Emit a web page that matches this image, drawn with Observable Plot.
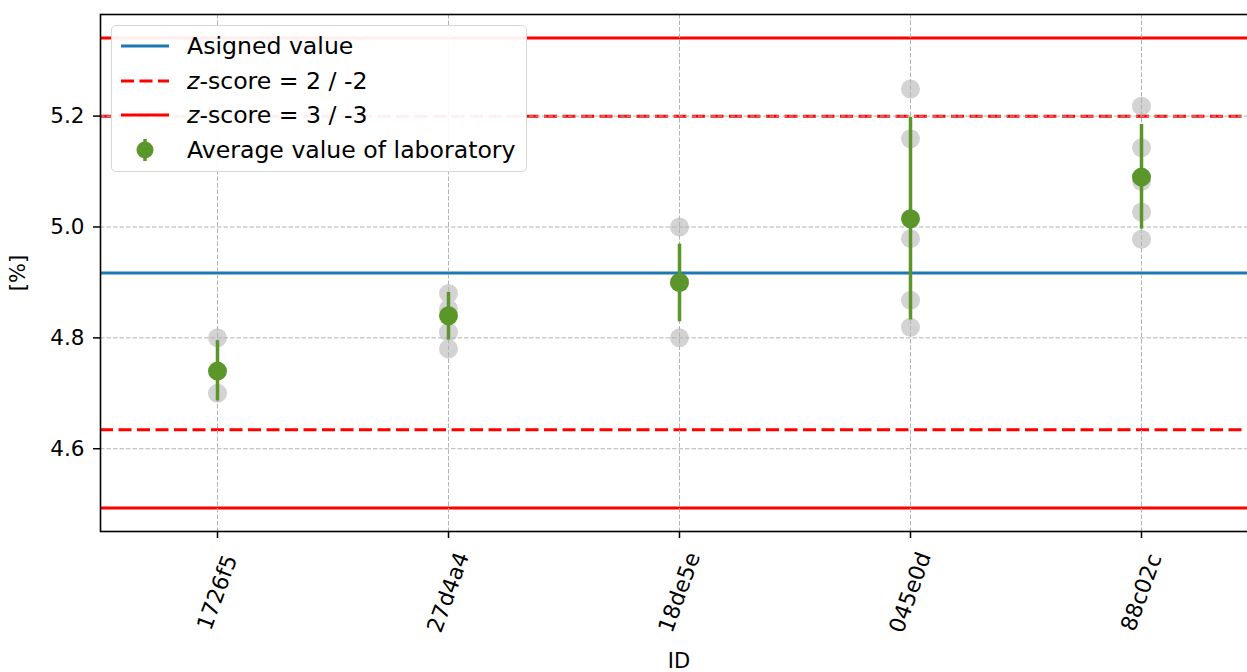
<!DOCTYPE html>
<html>
<head>
<meta charset="utf-8">
<script src="https://cdn.jsdelivr.net/npm/d3@7"></script>
<script src="https://cdn.jsdelivr.net/npm/@observablehq/plot@0.6"></script>
<style>
  html, body { margin: 0; padding: 0; background: white; overflow: hidden; }
  #wrap { position: relative; width: 1247px; height: 672px; font-family: "DejaVu Sans", sans-serif; }
  #legend { position: absolute; left: 111px; top: 25px; width: 416px; height: 147px; box-sizing: border-box;
            border: 1.5px solid #d6d6d6; border-radius: 5px; background: rgba(255,255,255,0.93); }
  #legend svg { display: block; }
</style>
</head>
<body>
<div id="wrap"></div>
<script>
// ---- data ----
const ids = ["1726f5", "27d4a4", "18de5e", "045e0d", "88c02c"];
const labMeans   = [4.740, 4.840, 4.900, 5.015, 5.090];
const labErrLow  = [4.686, 4.796, 4.829, 4.832, 4.996];
const labErrHigh = [4.795, 4.882, 4.969, 5.198, 5.185];

const replicateIds = [
  "1726f5", "1726f5",
  "27d4a4", "27d4a4", "27d4a4", "27d4a4",
  "18de5e", "18de5e", "18de5e",
  "045e0d", "045e0d", "045e0d", "045e0d", "045e0d",
  "88c02c", "88c02c", "88c02c", "88c02c", "88c02c"
];
const replicateValues = [
  4.800, 4.700,
  4.880, 4.852, 4.810, 4.780,
  5.000, 4.900, 4.800,
  5.249, 5.159, 4.979, 4.868, 4.819,
  5.218, 5.143, 5.082, 5.027, 4.978
];

const assignedValue = 4.917;
const sigmaPT = 0.1413;
const zLimits2 = [2, -2];
const zLimits3 = [3, -3];
const yTicks = [4.6, 4.8, 5.0, 5.2];

// ---- derived tables ----
const labs = ids.map((id, i) => ({id, mean: labMeans[i], lo: labErrLow[i], hi: labErrHigh[i]}));
const reps = replicateIds.map((id, i) => ({id, v: replicateValues[i]}));
const z2 = zLimits2.map(z => assignedValue + z * sigmaPT);
const z3 = zLimits3.map(z => assignedValue + z * sigmaPT);

const allY = [...z3, ...replicateValues, ...labErrLow, ...labErrHigh];
const yMin = d3.min(allY), yMax = d3.max(allY), pad = (yMax - yMin) * 0.05;

const GREEN = "#5b962a";
const GRAY = "#d3d3d3";
const GRID = "#b3b3b3";

const plot = Plot.plot({
  width: 1247,
  height: 672,
  marginTop: 14,
  marginBottom: 141,
  marginLeft: 100,
  marginRight: -10,
  style: {fontFamily: "DejaVu Sans, sans-serif", fontSize: "21px", color: "black", background: "white"},
  x: {type: "point", domain: ids, padding: 0.5},
  y: {domain: [yMin - pad, yMax + pad]},
  marks: [
    Plot.dot(reps, {x: "id", y: "v", r: 9.5, fill: GRAY, stroke: "none"}),
    Plot.ruleY([assignedValue], {stroke: "#1f77b4", strokeWidth: 3}),
    Plot.ruleY(z2, {stroke: "#ff0000", strokeWidth: 3, strokeDasharray: "13,5.5"}),
    Plot.ruleY(z3, {stroke: "#ff0000", strokeWidth: 3}),
    Plot.gridY(yTicks, {stroke: GRID, strokeOpacity: 1, strokeWidth: 1, strokeDasharray: "4.5,2"}),
    Plot.gridX(ids, {stroke: GRID, strokeOpacity: 1, strokeWidth: 1, strokeDasharray: "4.5,2"}),
    Plot.ruleX(labs, {x: "id", y1: "lo", y2: "hi", stroke: GREEN, strokeWidth: 3.5}),
    Plot.dot(labs, {x: "id", y: "mean", r: 9.5, fill: GREEN, stroke: "none"}),
    Plot.axisY(yTicks, {tickFormat: d3.format(".1f"), tickSize: 7, tickPadding: 9, strokeWidth: 1.5, label: null, fontSize: 21.5}),
    Plot.axisX(ids, {tickSize: 7, strokeWidth: 1.5, tickFormat: () => "", label: null}),
    Plot.text(ids, {x: d => d, frameAnchor: "bottom", dy: 61, rotate: -70, textAnchor: "middle", lineAnchor: "middle", fontSize: 22, fill: "black"}),
    Plot.text(["[%]"], {frameAnchor: "left", dx: -82, rotate: -90, textAnchor: "middle", lineAnchor: "middle", fontSize: 21, fill: "black"}),
    Plot.text(["ID"], {frameAnchor: "bottom", dy: 130, textAnchor: "middle", lineAnchor: "middle", fontSize: 21, fill: "black"}),
    Plot.frame({stroke: "black", strokeWidth: 1.6})
  ]
});

const wrap = document.getElementById("wrap");
wrap.appendChild(plot);

// ---- legend (overlaid inside the axes, as in the reference) ----
const legendItems = [
  {label: "Asigned value", kind: "line", color: "#1f77b4", dash: null},
  {label: "<tspan font-style='italic'>z</tspan>-score = 2 / -2", kind: "line", color: "#ff0000", dash: "13,5.5"},
  {label: "<tspan font-style='italic'>z</tspan>-score = 3 / -3", kind: "line", color: "#ff0000", dash: null},
  {label: "Average value of laboratory", kind: "marker", color: GREEN, dash: null}
];
const rowY = [20, 55, 89, 124];
let svg = `<svg width="413" height="144" font-family="DejaVu Sans, sans-serif" font-size="23.6">`;
legendItems.forEach((it, i) => {
  const y = rowY[i];
  if (it.kind === "line") {
    svg += `<line x1="9" x2="57" y1="${y}" y2="${y}" stroke="${it.color}" stroke-width="3"${it.dash ? ` stroke-dasharray="${it.dash}"` : ""}/>`;
  } else {
    svg += `<line x1="33" x2="33" y1="${y - 11}" y2="${y + 11}" stroke="${it.color}" stroke-width="3.5"/>`;
    svg += `<circle cx="33" cy="${y}" r="8.5" fill="${it.color}"/>`;
  }
  svg += `<text x="75" y="${y}" dy="0.36em" fill="black">${it.label}</text>`;
});
svg += `</svg>`;
const legend = document.createElement("div");
legend.id = "legend";
legend.innerHTML = svg;
wrap.appendChild(legend);
</script>
</body>
</html>
